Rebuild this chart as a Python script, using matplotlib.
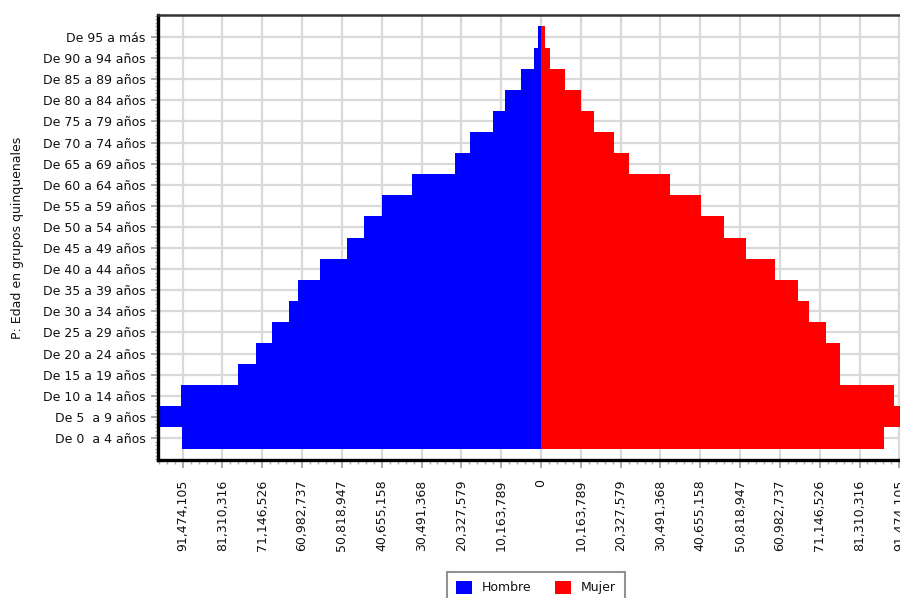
import matplotlib
matplotlib.use("Agg")
import matplotlib.pyplot as plt
from matplotlib.patches import Patch
from matplotlib.ticker import FixedLocator, FuncFormatter, AutoMinorLocator
import numpy as np

plt.rcParams['font.family'] = ['DejaVu Sans']

# ---- data ----
categories = ["De 0  a 4 años", "De 5  a 9 años", "De 10 a 14 años", "De 15 a 19 años",
              "De 20 a 24 años", "De 25 a 29 años", "De 30 a 34 años", "De 35 a 39 años",
              "De 40 a 44 años", "De 45 a 49 años", "De 50 a 54 años", "De 55 a 59 años",
              "De 60 a 64 años", "De 65 a 69 años", "De 70 a 74 años", "De 75 a 79 años",
              "De 80 a 84 años", "De 85 a 89 años", "De 90 a 94 años", "De 95 a más"]
hombre = [91720000, 97270000, 91980000, 77260000, 72740000, 68730000, 64230000, 62090000,
          56390000, 49410000, 45070000, 40470000, 32960000, 21900000, 18240000, 12370000,
          9120000, 5110000, 1890000, 770000]
mujer = [87530000, 94500000, 90090000, 76220000, 76220000, 72820000, 68370000, 65560000,
         59860000, 52380000, 46650000, 40960000, 33040000, 22380000, 18730000, 13440000,
         10300000, 6210000, 2380000, 1100000]
tick_step = 10163789.47
series_names = ["Hombre", "Mujer"]
colors = ["#0000ff", "#ff0000"]

# ---- figure ----
fig = plt.figure(figsize=(9.0, 5.98), dpi=100)
ax = fig.add_axes([158/900, 1-460/598, 766/900, (460-15)/598])

y = np.arange(len(categories))
ax.barh(y, [-v for v in hombre], height=1.0, color=colors[0], zorder=2, linewidth=0)
ax.barh(y, mujer, height=1.0, color=colors[1], zorder=2, linewidth=0)

xmax = tick_step * 9.62
ax.set_xlim(-xmax, xmax)
ax.set_ylim(-1.04, 20.04)

ticks = [k * tick_step for k in range(-9, 10)]
ax.xaxis.set_major_locator(FixedLocator(ticks))
ax.xaxis.set_major_formatter(FuncFormatter(lambda v, p: f"{abs(v):,.0f}"))
ax.xaxis.set_minor_locator(AutoMinorLocator(5))
ax.set_yticks(y)
ax.set_yticklabels(categories)
ax.yaxis.set_minor_locator(AutoMinorLocator(6))

ax.tick_params(axis='x', which='major', length=6, width=1.2, color='#999999',
               labelsize=9, labelcolor='#111111', labelrotation=90, pad=8)
ax.tick_params(axis='x', which='minor', length=3, width=1.0, color='#aaaaaa')
ax.tick_params(axis='y', which='major', length=5, width=1.2, color='#999999',
               labelsize=9, labelcolor='#111111', pad=4)
ax.tick_params(axis='y', which='minor', length=2.5, width=1.0, color='#aaaaaa')
for lab in ax.get_xticklabels():
    lab.set_verticalalignment('top')

ax.grid(True, which='major', color='#d9d9d9', linewidth=1.6, zorder=0)
ax.set_axisbelow(True)

for side in ['left', 'bottom']:
    ax.spines[side].set_linewidth(2.4)
    ax.spines[side].set_color('#000000')
ax.spines['top'].set_linewidth(1.8)
ax.spines['top'].set_color('#333333')
ax.spines['right'].set_visible(False)

ax.set_ylabel("P: Edad en grupos quinquenales", fontsize=9, color='#111111')
ax.yaxis.set_label_coords((24-158)/766, 0.5)

handles = [Patch(facecolor=c, edgecolor='none', label=n) for c, n in zip(colors, series_names)]
leg = fig.legend(handles=handles, loc='upper center', bbox_to_anchor=(536/900, 1-572/598),
                 ncol=2, fontsize=9, frameon=True, fancybox=False, edgecolor='#777777',
                 handlelength=1.3, handleheight=1.2, handletextpad=0.75, columnspacing=1.9,
                 borderpad=0.7, borderaxespad=0)
leg.get_frame().set_linewidth(1.5)
for t in leg.get_texts():
    t.set_color('#111111')

fig.savefig("out.png", dpi=100)
